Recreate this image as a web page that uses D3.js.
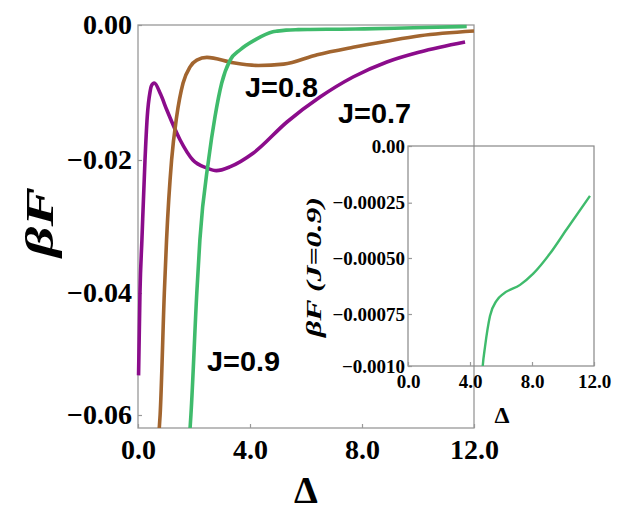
<!DOCTYPE html>
<html><head><meta charset="utf-8">
<script src="https://cdn.jsdelivr.net/npm/d3@7"></script>
<style>
html,body{margin:0;padding:0;background:#fff;}
svg{display:block;}
</style></head>
<body><svg id="c" width="625" height="512"></svg>
<script>
// ---- data ----
const j07Delta = [0.02, 0.07, 0.14, 0.25, 0.33, 0.43, 0.48, 0.58, 0.8, 1.03, 1.5, 1.96, 2.46, 2.8, 3.3, 4.11, 5.32, 6.5, 7.68, 8.89, 10.07, 11.68];
const j07F     = [-0.0535, -0.040, -0.032, -0.020, -0.0136, -0.0099, -0.0090, -0.0086, -0.0102, -0.0126, -0.017, -0.020, -0.0212, -0.0216, -0.0210, -0.0190, -0.01437, -0.01067, -0.0077, -0.00548, -0.0040, -0.00252];
const j08Delta = [0.76, 0.79, 0.94, 1.02, 1.2, 1.38, 1.61, 1.86, 2.1, 2.46, 3.4, 4.3, 5.2, 6.4, 7.68, 8.89, 10.07, 12.0];
const j08F     = [-0.0621, -0.060, -0.040, -0.032, -0.020, -0.0136, -0.0086, -0.0062, -0.0052, -0.0048, -0.0056, -0.0060, -0.0058, -0.0044, -0.0033, -0.0024, -0.0016, -0.0009];
const j09Delta = [1.86, 1.89, 2.1, 2.21, 2.52, 2.75, 2.99, 3.29, 3.64, 4.18, 4.82, 4.97, 5.29, 5.72, 6.15, 7.23, 8.08, 9.16, 10.24, 11.74];
const j09F     = [-0.0621, -0.060, -0.040, -0.032, -0.020, -0.0136, -0.0086, -0.0052, -0.0037, -0.0022, -0.00100, -0.000907, -0.00076, -0.00069, -0.00066, -0.00062, -0.00057, -0.00048, -0.00037, -0.00022];
const xTicks = [0, 4, 8, 12];
const xTickLabels = ["0.0", "4.0", "8.0", "12.0"];
const yTicks = [0, -0.02, -0.04, -0.06];
const yTickLabels = ["0.00", "\u22120.02", "\u22120.04", "\u22120.06"];
const insetYTicks = [0, -0.00025, -0.0005, -0.00075, -0.001];
const insetYTickLabels = ["0.00", "\u22120.00025", "\u22120.00050", "\u22120.00075", "\u22120.0010"];
const seriesNames = ["J=0.7", "J=0.8", "J=0.9"];
const colors = ["#8b0c8b", "#a2652f", "#3fbb6c"];

// ---- layout ----
const svg = d3.select("#c");
const x = d3.scaleLinear().domain([0, 12]).range([138, 474]);
const y = d3.scaleLinear().domain([0, -0.02, -0.04, -0.06, -0.0621]).range([25, 160, 293, 415, 428]);
const ix = d3.scaleLinear().domain([0, 12]).range([408, 594]);
const iy = d3.scaleLinear().domain([0, -0.00025, -0.0005, -0.00075, -0.001]).range([146, 202.7, 258, 314, 366]);

const series = [
  {d: j07Delta, f: j07F},
  {d: j08Delta, f: j08F},
  {d: j09Delta, f: j09F}
].map((s, i) => ({name: seriesNames[i], color: colors[i], pts: s.d.map((v, k) => [v, s.f[k]])}));

const defs = svg.append("defs");
defs.append("clipPath").attr("id", "mainClip").append("rect")
  .attr("x", x(0) - 3).attr("y", y(0) - 3).attr("width", x(12) - x(0) + 6).attr("height", y(-0.0621) - y(0) + 3);
defs.append("clipPath").attr("id", "insetClip").append("rect")
  .attr("x", ix(0)).attr("y", iy(0) - 3).attr("width", ix(12) - ix(0) + 3).attr("height", iy(-0.001) - iy(0) + 3);

const frameColor = "#999";
const serif = "'Liberation Serif','Times New Roman',serif";
const sans = "'Liberation Sans',Arial,sans-serif";

// main frame
svg.append("rect").attr("x", x(0)).attr("y", y(0)).attr("width", x(12) - x(0)).attr("height", y(-0.0621) - y(0))
  .attr("fill", "none").attr("stroke", frameColor).attr("stroke-width", 1.3);

function styleAxis(g, size) {
  g.select(".domain").remove();
  g.selectAll(".tick line").attr("stroke", frameColor).attr("stroke-width", 1.2);
  g.selectAll(".tick text").attr("font-family", serif).attr("font-weight", "bold").attr("font-size", size).attr("fill", "#000");
}

svg.append("g").attr("transform", `translate(0,${y(-0.0621)})`)
  .call(d3.axisBottom(x).tickValues(xTicks).tickSize(-4).tickPadding(11).tickFormat((d, i) => xTickLabels[i]))
  .call(g => styleAxis(g, 28));
svg.append("g").attr("transform", `translate(${x(0)},0)`)
  .call(d3.axisLeft(y).tickValues(yTicks).tickSize(-4).tickPadding(6).tickFormat((d, i) => yTickLabels[i]))
  .call(g => styleAxis(g, 28));

const line = d3.line().x(d => x(d[0])).y(d => y(d[1])).curve(d3.curveMonotoneX);
svg.append("g").attr("clip-path", "url(#mainClip)")
  .selectAll("path").data(series).join("path")
  .attr("d", s => line(s.pts)).attr("fill", "none").attr("stroke", s => s.color)
  .attr("stroke-width", 3.6).attr("stroke-linejoin", "round");

// labels main
svg.append("text").attr("transform", "translate(53,222) rotate(-90)").attr("text-anchor", "middle")
  .attr("font-family", serif).attr("font-weight", "bold").attr("font-style", "italic").attr("font-size", 40)
  .attr("textLength", 70).attr("lengthAdjust", "spacingAndGlyphs").text("\u03B2F");
svg.append("text").attr("x", 306).attr("y", 503).attr("text-anchor", "middle")
  .attr("font-family", serif).attr("font-weight", "bold").attr("font-size", 38).text("\u0394");

const annot = [{t: seriesNames[1], x: 245, y: 97}, {t: seriesNames[0], x: 338, y: 123}, {t: seriesNames[2], x: 207, y: 371}];
svg.append("g").selectAll("text").data(annot).join("text")
  .attr("x", d => d.x).attr("y", d => d.y).attr("font-family", sans).attr("font-weight", "bold")
  .attr("font-size", 27).attr("textLength", 73).attr("lengthAdjust", "spacingAndGlyphs").text(d => d.t);

// inset
svg.append("rect").attr("x", ix(0)).attr("y", iy(0)).attr("width", ix(12) - ix(0)).attr("height", iy(-0.001) - iy(0))
  .attr("fill", "none").attr("stroke", "#888").attr("stroke-width", 1.2);
svg.append("g").attr("transform", `translate(0,${iy(-0.001)})`)
  .call(d3.axisBottom(ix).tickValues(xTicks).tickSize(-4).tickPadding(9).tickFormat((d, i) => xTickLabels[i]))
  .call(g => styleAxis(g, 19));
svg.append("g").attr("transform", `translate(${ix(0)},0)`)
  .call(d3.axisLeft(iy).tickValues(insetYTicks).tickSize(-4).tickPadding(3).tickFormat((d, i) => insetYTickLabels[i]))
  .call(g => styleAxis(g, 19));
const iline = d3.line().x(d => ix(d[0])).y(d => iy(d[1])).curve(d3.curveMonotoneX);
svg.append("g").attr("clip-path", "url(#insetClip)").append("path")
  .attr("d", iline(series[2].pts)).attr("fill", "none").attr("stroke", colors[2]).attr("stroke-width", 2.4);
svg.append("text").attr("transform", "translate(321,267) rotate(-90)").attr("text-anchor", "middle")
  .attr("font-family", serif).attr("font-weight", "bold").attr("font-style", "italic").attr("font-size", 20)
  .attr("textLength", 140).attr("lengthAdjust", "spacingAndGlyphs").text("\u03B2F (J=0.9)");
svg.append("text").attr("x", 502).attr("y", 423).attr("text-anchor", "middle")
  .attr("font-family", serif).attr("font-weight", "bold").attr("font-size", 24).text("\u0394");
</script></body></html>
